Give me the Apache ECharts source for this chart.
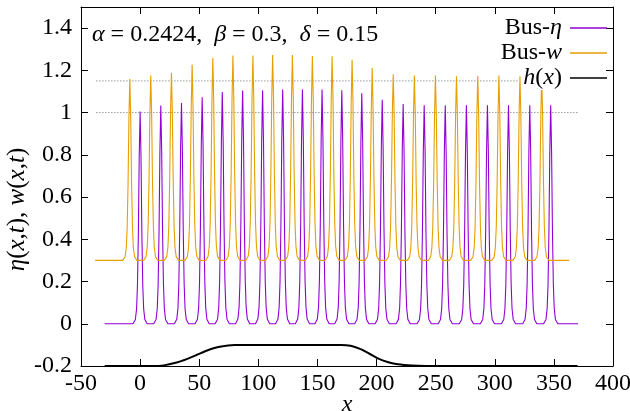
<!DOCTYPE html>
<html><head><meta charset="utf-8">
<script src="https://cdn.jsdelivr.net/npm/echarts@6/dist/echarts.min.js"></script>
<style>html,body{margin:0;padding:0;background:#fff}#c{width:630px;height:411px}</style>
</head><body><div id="c"></div>
<script>
// ---- data ----
const etaCenters = [0, 17.5, 35, 52.5, 69.5, 86.7, 103.6, 120.6, 137.3, 153.9, 170.6, 187.5, 204.8, 222.5, 240.3, 258.1, 276, 293.8, 311.6, 329.6, 347.3];
const etaPeaks   = [1.005, 1.033, 1.045, 1.073, 1.098, 1.105, 1.106, 1.109, 1.109, 1.109, 1.106, 1.092, 1.061, 1.041, 1.035, 1.035, 1.035, 1.035, 1.035, 1.035, 1.035];
const etaBase = 0;
const etaSpan = [-30, 370.5];

const wCenters = [-8.7, 9.0, 26.5, 44, 61.5, 78.5, 95.4, 112.1, 128.8, 145.7, 162.4, 179.3, 196.3, 214.1, 232, 249.8, 267.6, 285.6, 303.5, 321.3, 339.7];
const wPeaks   = [1.159, 1.176, 1.189, 1.227, 1.259, 1.27, 1.27, 1.273, 1.273, 1.268, 1.267, 1.25, 1.211, 1.182, 1.175, 1.175, 1.172, 1.174, 1.175, 1.172, 1.17];
const wBase = 0.3;
const wSpan = [-38, 363];

const profileDx   = [-6, -4, -3, -2.25, -1.5, -0.75, 0, 0.75, 1.5, 2.25, 3, 4, 6];
const profileFrac = [0, 0.02, 0.07, 0.18, 0.42, 0.79, 1, 0.79, 0.42, 0.18, 0.07, 0.02, 0];

const hX = [-30, 0, 10, 20, 30, 40, 47, 55, 62, 70, 80, 90, 170, 178, 186, 194, 202, 210, 218, 230, 242, 370];
const hY = [-0.2, -0.2, -0.2, -0.197, -0.185, -0.166, -0.15, -0.13, -0.116, -0.106, -0.101, -0.1, -0.1, -0.104, -0.119, -0.142, -0.166, -0.182, -0.192, -0.198, -0.2, -0.2];

const refLevels = [1.0, 1.15];
const refStart = -37;
const refEnds = [370, 320];

const xRange = [-50, 400, 50];
const yRange = [-0.2, 1.5, 0.2];
const seriesNames = ['Bus-η', 'Bus-w', 'h(x)'];

// ---- build ----
function wave(centers, peaks, base, span) {
  const pts = [[span[0], base]];
  centers.forEach((c, i) => {
    profileDx.forEach((dx, j) => pts.push([c + dx, base + (peaks[i] - base) * profileFrac[j]]));
  });
  pts.push([span[1], base]);
  return pts;
}
const FONT = '"Liberation Serif", "Times New Roman", serif';
const rich = { i: { fontFamily: FONT, fontStyle: 'italic', fontSize: 24, color: '#000' } };
const richY = { i: { fontFamily: FONT, fontStyle: 'italic', fontSize: 25, color: '#000' } };

function axisCommon() {
  return {
    axisLine: { show: true, onZero: false, lineStyle: { color: '#000', width: 1 } },
    axisTick: { show: true, inside: true, length: 7, lineStyle: { color: '#000' } },
    splitLine: { show: false }
  };
}

const chart = echarts.init(document.getElementById('c'), null, { renderer: 'canvas' });
const refSeries = refLevels.map((lv, k) => ({
  type: 'line', name: 'ref' + k, data: [[refStart, lv], [refEnds[k], lv]],
  showSymbol: false, silent: true, z: 1,
  lineStyle: { color: '#666', width: 1, type: [1, 2] }
}));

chart.setOption({
  animation: false,
  backgroundColor: '#fff',
  title: {
    text: '{i|α} = 0.2424,  {i|β} = 0.3,  {i|δ} = 0.15',
    left: 87, top: 18,
    textStyle: { fontFamily: FONT, fontSize: 24, fontWeight: 'normal', color: '#000', rich: rich }
  },
  grid: { left: 81, right: 17, top: 7, bottom: 45, containLabel: false, outerBoundsMode: 'none' },
  legend: seriesNames.map((n, k) => ({
    data: [n], right: 23, top: 16 + 25 * k, align: 'right', orient: 'vertical',
    icon: 'rect', itemWidth: 37, itemHeight: 1.5, selectedMode: false, padding: 0,
    formatter: k === 0 ? 'Bus-{i|η}' : (k === 1 ? 'Bus-{i|w}' : '{i|h}({i|x})'),
    textStyle: Object.assign({ fontFamily: FONT, fontSize: 24, color: '#000', rich: rich, padding: [0, 3, 0, 0] },
      k === 2 ? { backgroundColor: '#fff' } : {})
  })),
  xAxis: [
    Object.assign({ type: 'value', min: xRange[0], max: xRange[1], interval: xRange[2], position: 'bottom',
      name: 'x', nameLocation: 'middle', nameGap: 27, nameMoveOverlap: false,
      nameTextStyle: { fontFamily: FONT, fontSize: 24, fontStyle: 'italic', color: '#000' },
      axisLabel: { fontFamily: FONT, fontSize: 24, color: '#000', margin: 6 } }, axisCommon()),
    Object.assign({ type: 'value', min: xRange[0], max: xRange[1], interval: xRange[2], position: 'top',
      axisLabel: { show: false } }, axisCommon())
  ],
  yAxis: [
    Object.assign({ type: 'value', min: yRange[0], max: yRange[1], interval: yRange[2], position: 'left',
      name: '{i|η}({i|x},{i|t}), {i|w}({i|x},{i|t})', nameLocation: 'middle', nameGap: 51, nameRotate: 90,
      nameMoveOverlap: false,
      nameTextStyle: { fontFamily: FONT, fontSize: 25, color: '#000', rich: richY, padding: [0, 46, 0, 0] },
      axisLabel: { fontFamily: FONT, fontSize: 24, color: '#000', margin: 9, showMaxLabel: false } }, axisCommon()),
    Object.assign({ type: 'value', min: yRange[0], max: yRange[1], interval: yRange[2], position: 'right',
      axisLabel: { show: false } }, axisCommon())
  ],
  series: refSeries.concat([
    { type: 'line', name: seriesNames[0], data: wave(etaCenters, etaPeaks, etaBase, etaSpan),
      showSymbol: false, z: 2, color: '#9400d3', lineStyle: { color: '#9400d3', width: 1.1 } },
    { type: 'line', name: seriesNames[1], data: wave(wCenters, wPeaks, wBase, wSpan),
      showSymbol: false, z: 3, color: '#e69f00', lineStyle: { color: '#e69f00', width: 1.1 } },
    { type: 'line', name: seriesNames[2], data: hX.map((x, i) => [x, hY[i]]),
      showSymbol: false, z: 4, smooth: 0.3, color: '#000', lineStyle: { color: '#000', width: 2 } }
  ])
});
</script></body></html>
